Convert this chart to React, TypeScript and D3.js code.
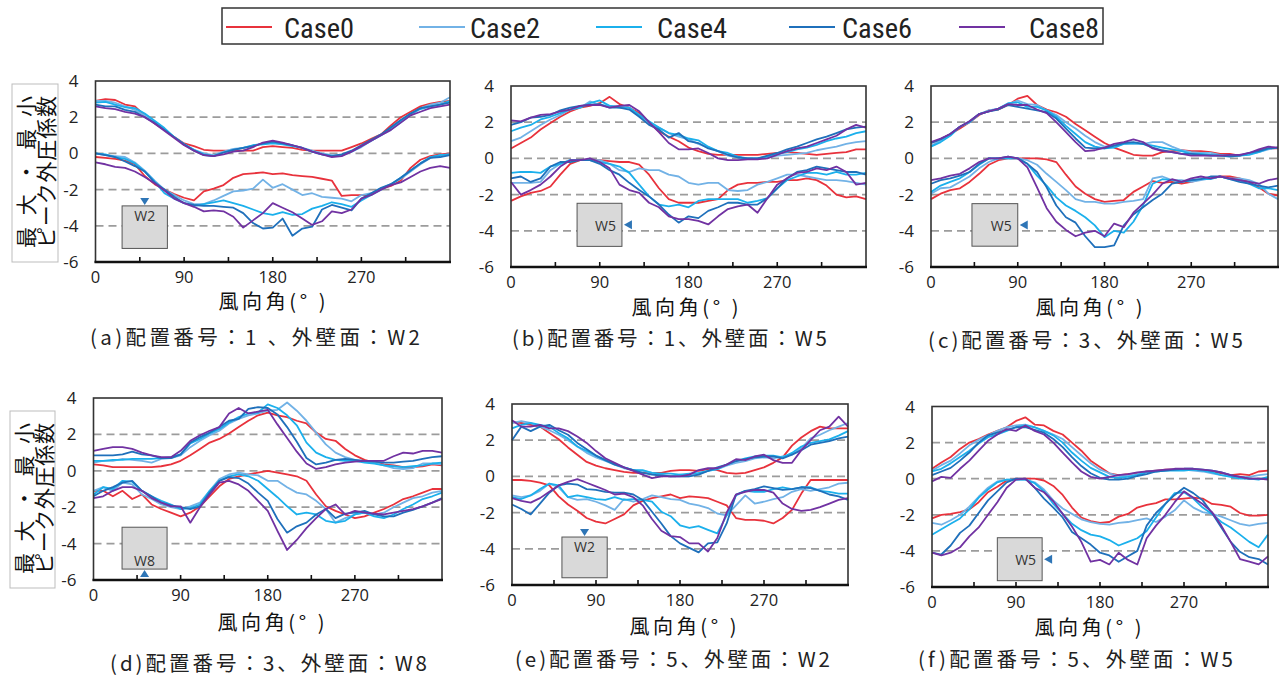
import React from 'react';
import * as d3 from 'd3';

// Wind direction (degrees) at which every series is sampled
const ANGLES = [0, 10, 20, 30, 40, 50, 60, 70, 80, 90, 100, 110, 120, 130, 140, 150, 160, 170, 180,
  190, 200, 210, 220, 230, 240, 250, 260, 270, 280, 290, 300, 310, 320, 330, 340, 350, 360];

const CASES = ['Case0', 'Case2', 'Case4', 'Case6', 'Case8'];
const CASE_COLORS = ['#E8323C', '#72B2E6', '#1BB0EC', '#1F70BB', '#7132A2'];

const Y_TICKS = [4, 2, 0, -2, -4, -6];
const GRID_VALUES = [2, 0, -2, -4];
const X_TICKS = [45, 90, 135, 180, 225, 270, 315];
const X_LABELS = [0, 90, 180, 270];

// Each array below holds one row per case (Case0, Case2, Case4, Case6, Case8)

// (a) layout 1, wall W2
const A_MAX = [
  [2.9, 3.0, 2.95, 2.7, 2.6, 2.1, 1.65, 1.3, 0.9, 0.55, 0.4, 0.2, 0.15, 0.15, 0.15, 0.15, 0.15, 0.35, 0.4, 0.35, 0.3, 0.2, 0.15, 0.15, 0.15, 0.15, 0.35, 0.55, 0.8, 1.05, 1.55, 2.0, 2.3, 2.6, 2.75, 2.85, 2.9],
  [2.9, 2.9, 2.8, 2.6, 2.4, 2.1, 1.7, 1.3, 0.9, 0.5, 0.2, 0.0, -0.1, 0.1, 0.25, 0.3, 0.45, 0.55, 0.6, 0.55, 0.45, 0.3, 0.15, 0.0, -0.1, -0.1, 0.1, 0.35, 0.7, 1.0, 1.3, 1.7, 2.1, 2.5, 2.7, 2.8, 3.1],
  [2.8, 2.85, 2.7, 2.55, 2.5, 2.2, 1.8, 1.4, 0.9, 0.5, 0.2, -0.05, -0.15, 0.05, 0.2, 0.3, 0.45, 0.5, 0.55, 0.5, 0.4, 0.3, 0.1, -0.05, -0.15, -0.1, 0.1, 0.4, 0.7, 1.0, 1.4, 1.8, 2.2, 2.45, 2.6, 2.7, 2.9],
  [2.7, 2.6, 2.6, 2.4, 2.3, 2.0, 1.7, 1.3, 0.9, 0.5, 0.15, -0.1, -0.15, 0.05, 0.2, 0.3, 0.4, 0.55, 0.65, 0.55, 0.45, 0.3, 0.1, -0.05, -0.15, -0.05, 0.15, 0.45, 0.75, 1.05, 1.45, 1.85, 2.2, 2.5, 2.6, 2.7, 2.8],
  [2.6, 2.5, 2.45, 2.3, 2.2, 2.0, 1.65, 1.25, 0.85, 0.45, 0.15, -0.1, -0.15, -0.05, 0.1, 0.15, 0.35, 0.6, 0.7, 0.6, 0.45, 0.3, 0.1, -0.05, -0.2, -0.15, 0.1, 0.4, 0.7, 1.0, 1.3, 1.7, 2.1, 2.3, 2.5, 2.6, 2.7],
];
const A_MIN = [
  [-0.2, -0.25, -0.3, -0.4, -0.6, -1.25, -1.7, -2.0, -2.25, -2.45, -2.6, -2.1, -1.95, -1.75, -1.35, -1.15, -1.1, -1.05, -1.15, -1.1, -1.2, -1.25, -1.3, -1.4, -1.5, -2.35, -2.3, -2.3, -2.3, -1.95, -1.8, -1.5, -0.8, -0.35, -0.15, -0.05, 0.0],
  [0.0, -0.1, -0.15, -0.2, -0.5, -0.95, -1.5, -2.0, -2.3, -2.6, -2.8, -2.8, -2.6, -2.35, -2.1, -2.05, -1.95, -1.45, -1.9, -1.7, -2.0, -2.3, -2.2, -2.4, -2.45, -2.5, -2.65, -2.3, -2.2, -1.95, -1.7, -1.4, -1.0, -0.6, -0.25, -0.1, -0.05],
  [0.0, -0.05, -0.2, -0.3, -0.55, -1.0, -1.55, -2.2, -2.5, -2.75, -2.9, -2.8, -2.7, -2.6, -2.75, -2.9, -3.1, -3.3, -3.4, -3.25, -3.4, -3.35, -3.05, -2.9, -2.7, -2.8, -2.95, -2.6, -2.3, -2.0, -1.7, -1.35, -0.95, -0.55, -0.2, -0.1, -0.05],
  [0.0, -0.1, -0.2, -0.45, -0.7, -1.0, -1.6, -2.0, -2.4, -2.75, -2.85, -2.9, -2.9, -2.95, -3.0, -3.3, -3.85, -4.15, -4.1, -3.6, -4.55, -4.15, -4.05, -3.1, -2.85, -3.0, -3.15, -2.5, -2.2, -1.9, -1.7, -1.35, -0.95, -0.55, -0.25, -0.2, -0.1],
  [-0.5, -0.6, -0.75, -0.8, -1.0, -1.3, -1.65, -2.05, -2.5, -2.75, -2.95, -3.2, -3.15, -3.2, -3.5, -4.1, -3.7, -3.3, -2.75, -3.0, -3.25, -3.6, -3.95, -3.75, -3.2, -3.3, -3.1, -2.5, -2.3, -2.0, -1.75, -1.6, -1.3, -1.0, -0.8, -0.7, -0.8],
];

// (b) layout 1, wall W5
const B_MAX = [
  [0.55, 0.85, 1.15, 1.6, 1.95, 2.3, 2.6, 2.8, 2.9, 3.05, 3.4, 3.0, 2.8, 2.5, 1.95, 1.5, 1.2, 0.95, 0.6, 0.4, 0.25, 0.2, 0.2, 0.2, 0.2, 0.2, 0.25, 0.3, 0.35, 0.3, 0.25, 0.2, 0.25, 0.3, 0.35, 0.5, 0.5],
  [0.95, 1.15, 1.5, 1.85, 2.15, 2.4, 2.7, 2.8, 3.15, 2.95, 2.9, 2.9, 2.8, 2.4, 1.95, 1.7, 1.4, 1.2, 1.05, 0.8, 0.6, 0.4, 0.15, 0.05, 0.0, 0.0, 0.05, 0.15, 0.2, 0.25, 0.3, 0.45, 0.55, 0.65, 0.8, 0.9, 0.95],
  [1.5, 1.7, 1.85, 2.15, 2.3, 2.5, 2.7, 2.8, 3.05, 3.2, 2.9, 2.8, 2.8, 2.4, 2.05, 1.7, 1.4, 1.3, 1.1, 1.0, 0.65, 0.4, 0.3, 0.1, 0.0, 0.0, 0.1, 0.25, 0.35, 0.5, 0.6, 0.75, 0.95, 1.1, 1.2, 1.4, 1.5],
  [1.85, 2.0, 2.25, 2.3, 2.4, 2.65, 2.8, 2.9, 2.95, 3.0, 2.8, 2.8, 2.7, 2.3, 1.85, 1.6, 1.15, 1.4, 0.95, 0.85, 0.55, 0.4, 0.2, 0.05, 0.0, 0.0, 0.15, 0.3, 0.5, 0.65, 0.85, 1.05, 1.2, 1.4, 1.6, 1.7, 1.75],
  [2.1, 2.05, 2.25, 2.4, 2.45, 2.6, 2.7, 2.9, 2.95, 2.95, 2.8, 2.9, 2.95, 2.6, 2.0, 1.45, 0.85, 0.5, 0.5, 0.55, 0.3, 0.0, -0.1, -0.1, -0.05, -0.05, 0.0, 0.2, 0.4, 0.55, 0.65, 0.85, 1.05, 1.25, 1.6, 1.85, 1.7],
];
const B_MIN = [
  [-2.35, -2.1, -1.9, -1.8, -1.55, -0.9, -0.3, -0.1, -0.1, -0.1, -0.15, -0.2, -0.2, -0.35, -0.9, -1.65, -2.25, -2.45, -2.45, -2.45, -2.35, -2.25, -1.75, -1.45, -1.35, -1.35, -1.3, -1.3, -1.2, -1.2, -1.1, -1.2, -1.5, -2.0, -2.15, -2.1, -2.25],
  [-1.35, -1.35, -1.35, -1.3, -0.65, -0.3, -0.1, -0.1, -0.1, -0.1, -0.3, -0.65, -0.75, -0.55, -0.65, -0.65, -0.9, -1.0, -1.35, -1.45, -1.35, -1.35, -1.75, -1.8, -1.75, -1.45, -1.3, -1.1, -0.9, -0.9, -1.0, -1.1, -1.2, -1.2, -1.25, -1.35, -1.45],
  [-0.8, -0.75, -0.75, -0.8, -0.45, -0.3, -0.1, -0.1, -0.1, -0.2, -0.3, -0.45, -0.8, -1.45, -2.1, -2.55, -2.65, -2.55, -2.7, -2.35, -2.25, -2.25, -2.25, -2.25, -2.45, -2.35, -2.2, -1.65, -1.2, -1.0, -0.8, -0.8, -0.9, -0.75, -0.9, -0.9, -0.8],
  [-1.1, -1.0, -1.3, -1.1, -0.45, -0.2, -0.2, -0.1, -0.1, -0.3, -0.65, -0.9, -1.35, -1.75, -2.1, -2.55, -3.1, -3.55, -3.2, -3.3, -2.9, -2.7, -2.45, -2.45, -2.55, -2.55, -2.2, -1.65, -1.1, -0.75, -0.65, -0.45, -0.55, -0.65, -0.75, -0.75, -0.9],
  [-1.3, -2.0, -1.75, -1.45, -1.0, -0.45, -0.1, -0.1, 0.0, -0.2, -0.55, -1.45, -1.75, -1.9, -2.45, -2.7, -3.2, -3.35, -3.35, -3.45, -3.65, -3.2, -2.8, -2.65, -2.55, -3.0, -2.2, -1.45, -1.1, -0.8, -0.75, -0.55, -0.65, -0.45, -0.75, -1.45, -1.35],
];

// (c) layout 3, wall W5
const C_MAX = [
  [0.85, 1.05, 1.35, 1.65, 2.0, 2.4, 2.65, 2.7, 2.95, 3.3, 3.45, 2.95, 2.7, 2.55, 2.3, 1.9, 1.55, 1.2, 0.85, 0.6, 0.4, 0.2, 0.15, 0.15, 0.35, 0.4, 0.45, 0.4, 0.4, 0.35, 0.25, 0.25, 0.15, 0.25, 0.45, 0.55, 0.55],
  [0.7, 1.0, 1.35, 1.75, 2.0, 2.45, 2.65, 2.75, 3.0, 3.2, 3.0, 2.95, 2.65, 2.4, 2.0, 1.65, 1.25, 0.9, 0.65, 0.7, 0.8, 0.8, 0.8, 0.9, 0.9, 0.65, 0.45, 0.35, 0.3, 0.3, 0.2, 0.15, 0.15, 0.25, 0.35, 0.5, 0.6],
  [0.65, 0.9, 1.25, 1.75, 2.0, 2.45, 2.6, 2.75, 3.05, 3.1, 2.85, 2.85, 2.65, 2.3, 1.8, 1.35, 0.9, 0.65, 0.55, 0.6, 0.8, 0.85, 0.8, 0.7, 0.6, 0.5, 0.4, 0.25, 0.25, 0.2, 0.15, 0.15, 0.15, 0.2, 0.35, 0.55, 0.6],
  [0.85, 1.05, 1.35, 1.75, 2.05, 2.45, 2.6, 2.7, 2.95, 2.85, 2.75, 2.65, 2.55, 2.2, 1.65, 1.1, 0.6, 0.55, 0.55, 0.7, 0.85, 0.9, 0.8, 0.6, 0.45, 0.35, 0.25, 0.25, 0.2, 0.15, 0.15, 0.1, 0.15, 0.3, 0.4, 0.55, 0.6],
  [0.9, 1.1, 1.35, 1.75, 2.05, 2.45, 2.6, 2.75, 3.0, 2.95, 2.95, 2.7, 2.5, 2.0, 1.45, 0.9, 0.4, 0.45, 0.6, 0.8, 0.9, 1.05, 0.9, 0.55, 0.4, 0.35, 0.25, 0.15, 0.15, 0.15, 0.15, 0.2, 0.2, 0.3, 0.5, 0.65, 0.6],
];
const C_MIN = [
  [-2.25, -1.95, -1.75, -1.65, -1.3, -0.85, -0.35, -0.1, 0.0, 0.0, 0.0, 0.0, -0.05, -0.2, -0.9, -1.55, -1.95, -2.25, -2.4, -2.35, -2.3, -1.85, -1.55, -1.25, -1.35, -1.3, -1.4, -1.3, -1.15, -1.1, -1.0, -1.0, -1.1, -1.3, -1.6, -1.95, -2.05],
  [-1.95, -1.65, -1.6, -1.3, -1.0, -0.55, -0.2, 0.0, 0.0, 0.0, -0.1, -0.35, -0.85, -1.3, -1.75, -2.25, -2.4, -2.4, -2.5, -2.5, -2.4, -2.35, -2.25, -1.1, -1.0, -1.2, -1.2, -1.3, -1.2, -1.1, -1.0, -1.1, -1.1, -1.2, -1.4, -1.95, -2.25],
  [-1.85, -1.5, -1.3, -1.1, -0.75, -0.35, 0.0, 0.0, 0.0, 0.0, -0.3, -0.95, -1.5, -2.15, -2.6, -2.9, -3.25, -3.7, -4.35, -4.0, -4.1, -3.5, -2.6, -1.4, -1.15, -1.2, -1.3, -1.2, -1.15, -1.15, -1.0, -1.15, -1.2, -1.4, -1.65, -1.65, -1.75],
  [-1.4, -1.2, -1.1, -0.95, -0.75, -0.3, 0.0, 0.0, 0.1, 0.0, -0.3, -0.75, -1.6, -2.6, -3.25, -3.55, -4.3, -4.9, -4.9, -4.8, -3.7, -3.1, -2.7, -2.3, -1.95, -1.4, -1.3, -1.2, -1.15, -1.0, -1.0, -1.15, -1.3, -1.4, -1.5, -1.6, -1.5],
  [-1.2, -1.1, -0.95, -0.85, -0.55, -0.2, 0.0, 0.0, 0.1, 0.0, -0.5, -1.6, -2.75, -3.5, -3.95, -4.3, -4.1, -4.0, -4.3, -3.6, -3.8, -3.0, -2.5, -2.0, -1.4, -1.15, -1.3, -1.1, -1.0, -1.1, -1.0, -1.1, -1.2, -1.3, -1.4, -1.2, -1.1],
];

// (d) layout 3, wall W8
const D_MAX = [
  [0.35, 0.3, 0.2, 0.2, 0.2, 0.2, 0.2, 0.25, 0.35, 0.55, 0.85, 1.2, 1.55, 1.75, 2.05, 2.4, 2.75, 3.05, 3.2, 3.05, 2.95, 2.75, 2.6, 2.1, 1.75, 1.65, 1.2, 0.85, 0.6, 0.45, 0.35, 0.3, 0.2, 0.2, 0.25, 0.35, 0.3],
  [0.45, 0.55, 0.55, 0.65, 0.6, 0.55, 0.45, 0.65, 0.7, 0.85, 1.3, 1.65, 1.95, 2.2, 2.6, 2.85, 3.05, 3.15, 3.3, 3.35, 3.75, 3.3, 2.75, 2.1, 1.45, 1.0, 0.75, 0.6, 0.5, 0.45, 0.3, 0.15, 0.1, 0.15, 0.4, 0.4, 0.35],
  [0.55, 0.55, 0.6, 0.6, 0.65, 0.65, 0.65, 0.7, 0.75, 0.9, 1.5, 1.75, 2.05, 2.3, 2.65, 2.95, 3.15, 3.2, 3.65, 3.45, 3.05, 2.5, 1.55, 1.0, 0.75, 0.6, 0.55, 0.55, 0.45, 0.4, 0.3, 0.25, 0.2, 0.25, 0.3, 0.4, 0.45],
  [0.85, 0.85, 0.85, 0.9, 1.05, 0.9, 0.85, 0.7, 0.7, 0.9, 1.55, 1.85, 2.1, 2.4, 2.75, 2.85, 3.4, 3.5, 3.45, 3.1, 2.4, 1.6, 0.7, 0.35, 0.45, 0.6, 0.65, 0.6, 0.55, 0.5, 0.45, 0.45, 0.5, 0.55, 0.65, 0.75, 0.8],
  [1.1, 1.2, 1.3, 1.3, 1.2, 1.0, 0.85, 0.75, 0.75, 1.1, 1.65, 1.95, 2.2, 2.4, 3.15, 3.45, 3.15, 3.25, 3.35, 2.55, 1.8, 1.05, 0.4, 0.1, 0.2, 0.35, 0.45, 0.5, 0.55, 0.55, 0.55, 0.8, 1.0, 0.95, 1.1, 1.1, 1.0],
];
const D_MIN = [
  [-1.1, -1.1, -1.4, -1.1, -1.55, -1.3, -1.85, -2.1, -2.3, -2.5, -2.3, -1.95, -1.4, -0.85, -0.45, -0.3, -0.2, -0.1, 0.0, -0.1, -0.2, -0.3, -0.55, -1.3, -1.95, -2.2, -2.4, -2.6, -2.5, -2.3, -2.1, -1.85, -1.55, -1.4, -1.2, -1.0, -1.0],
  [-1.1, -0.9, -1.1, -0.65, -0.75, -1.3, -1.55, -1.85, -2.0, -2.1, -1.95, -1.75, -1.1, -0.45, -0.2, -0.1, -0.2, -0.25, -0.55, -0.55, -0.9, -1.2, -1.3, -1.65, -2.1, -2.85, -2.6, -2.4, -2.3, -2.4, -2.3, -2.0, -1.75, -1.5, -1.4, -1.2, -1.1],
  [-1.3, -0.9, -1.0, -0.55, -0.6, -1.1, -1.4, -1.65, -1.85, -2.1, -2.05, -1.85, -1.1, -0.55, -0.3, -0.2, -0.3, -0.55, -1.0, -1.45, -1.95, -2.4, -2.3, -2.4, -2.75, -2.85, -2.75, -2.4, -2.3, -2.5, -2.6, -2.4, -2.1, -1.85, -1.55, -1.4, -1.2],
  [-1.4, -1.1, -0.9, -0.65, -0.55, -1.1, -1.4, -1.75, -1.9, -2.0, -2.1, -1.95, -1.2, -0.55, -0.35, -0.4, -0.7, -1.2, -1.65, -2.65, -3.4, -3.05, -2.85, -2.4, -2.1, -2.6, -2.35, -2.3, -2.2, -2.4, -2.5, -2.5, -2.3, -2.15, -1.95, -1.75, -1.5],
  [-1.5, -1.4, -1.1, -0.9, -0.9, -1.1, -1.5, -1.75, -1.95, -1.95, -2.85, -2.0, -1.3, -0.65, -0.55, -0.75, -1.1, -1.65, -2.2, -3.3, -4.35, -3.8, -3.15, -2.6, -2.1, -1.85, -2.4, -2.2, -2.3, -2.35, -2.4, -2.3, -2.2, -2.1, -1.95, -1.75, -1.55],
];

// (e) layout 5, wall W2
const E_MAX = [
  [3.0, 2.95, 2.85, 2.75, 2.4, 2.05, 1.6, 1.2, 0.8, 0.6, 0.45, 0.35, 0.25, 0.2, 0.2, 0.2, 0.2, 0.3, 0.35, 0.35, 0.3, 0.4, 0.35, 0.2, 0.15, 0.2, 0.35, 0.5, 0.75, 1.05, 1.7, 2.15, 2.5, 2.75, 2.65, 2.65, 2.65],
  [2.95, 3.05, 2.95, 2.75, 2.55, 2.3, 2.0, 1.65, 1.3, 1.05, 0.85, 0.65, 0.45, 0.35, 0.3, 0.2, 0.1, 0.0, 0.1, 0.05, 0.15, 0.3, 0.4, 0.6, 0.75, 0.85, 1.0, 1.05, 1.0, 1.1, 1.2, 1.55, 2.1, 2.3, 2.55, 2.75, 2.95],
  [2.65, 2.85, 2.95, 2.85, 2.75, 2.4, 2.1, 1.65, 1.4, 1.15, 0.9, 0.7, 0.5, 0.35, 0.35, 0.2, 0.15, 0.15, 0.1, 0.15, 0.2, 0.3, 0.4, 0.65, 0.85, 1.0, 1.1, 1.15, 1.15, 1.05, 1.3, 1.65, 1.85, 1.95, 2.05, 2.25, 2.5],
  [2.0, 2.75, 2.5, 2.75, 2.85, 2.55, 2.3, 1.85, 1.5, 1.15, 0.9, 0.65, 0.5, 0.35, 0.2, 0.1, 0.05, 0.0, 0.0, 0.0, 0.1, 0.3, 0.5, 0.65, 0.85, 0.95, 1.05, 1.1, 1.1, 1.0, 1.2, 1.45, 1.75, 1.85, 1.95, 2.1, 2.2],
  [3.1, 2.75, 2.75, 2.85, 2.65, 2.65, 2.5, 2.2, 1.85, 1.4, 1.0, 0.75, 0.5, 0.3, 0.1, -0.1, 0.0, 0.0, 0.0, 0.1, 0.35, 0.45, 0.45, 0.65, 0.95, 0.9, 1.1, 1.2, 0.9, 0.75, 0.75, 1.45, 2.0, 2.55, 2.75, 3.3, 2.75],
];
const E_MIN = [
  [-0.2, -0.2, -0.25, -0.35, -0.5, -1.1, -1.55, -1.9, -2.3, -2.5, -2.6, -2.35, -2.1, -1.6, -1.35, -1.2, -1.1, -1.0, -1.2, -1.1, -1.15, -1.2, -1.4, -1.6, -2.3, -2.4, -2.4, -2.45, -2.6, -2.3, -1.85, -0.95, -0.2, -0.2, -0.2, -0.2, -0.2],
  [-1.05, -1.15, -1.05, -0.8, -0.4, -0.6, -1.15, -1.3, -1.25, -1.4, -1.6, -1.85, -1.25, -1.4, -1.25, -1.05, -1.15, -1.25, -1.3, -1.5, -1.6, -1.75, -2.05, -2.15, -1.6, -1.05, -1.5, -1.4, -1.25, -1.15, -0.85, -0.7, -0.8, -0.7, -0.6, -0.4, -0.35],
  [-1.15, -1.25, -1.05, -0.7, -0.4, -0.5, -1.15, -1.05, -1.15, -1.25, -1.3, -1.15, -1.3, -1.25, -1.3, -1.4, -1.95, -2.2, -2.7, -2.85, -2.75, -2.95, -3.15, -2.15, -1.05, -0.8, -0.85, -0.85, -0.7, -0.6, -0.7, -0.6, -0.6, -0.8, -0.85, -0.95, -0.95],
  [-1.55, -1.8, -2.1, -1.5, -0.9, -0.5, -0.4, -0.45, -0.7, -0.75, -0.85, -0.9, -0.9, -1.0, -1.3, -1.95, -2.6, -3.3, -3.7, -3.95, -4.2, -3.7, -3.65, -2.6, -1.0, -0.8, -0.7, -0.55, -0.65, -0.75, -0.7, -0.6, -0.65, -0.8, -1.0, -1.1, -1.3],
  [-1.2, -1.35, -1.45, -1.2, -0.85, -0.5, -0.3, -0.15, -0.35, -0.55, -0.75, -1.0, -0.95, -1.15, -1.6, -2.35, -3.0, -3.3, -3.35, -3.7, -3.7, -4.15, -3.4, -2.0, -1.0, -0.85, -0.75, -0.75, -0.9, -1.5, -1.8, -1.9, -1.85, -1.7, -1.5, -1.3, -1.2],
];

// (f) layout 5, wall W5
const F_MAX = [
  [0.55, 0.9, 1.2, 1.65, 2.0, 2.2, 2.45, 2.65, 2.85, 3.2, 3.4, 3.0, 2.95, 2.65, 2.45, 2.0, 1.55, 1.0, 0.65, 0.3, 0.2, 0.25, 0.3, 0.4, 0.45, 0.5, 0.5, 0.55, 0.5, 0.45, 0.4, 0.3, 0.2, 0.25, 0.2, 0.4, 0.45],
  [0.45, 0.75, 1.0, 1.4, 1.85, 2.15, 2.4, 2.65, 2.85, 2.95, 3.0, 2.85, 2.65, 2.45, 2.2, 1.75, 1.3, 0.85, 0.5, 0.3, 0.15, 0.15, 0.25, 0.4, 0.45, 0.45, 0.5, 0.5, 0.45, 0.4, 0.3, 0.2, 0.15, 0.1, 0.1, 0.2, 0.25],
  [0.4, 0.55, 0.85, 1.2, 1.55, 1.95, 2.3, 2.45, 2.65, 2.85, 2.95, 2.85, 2.65, 2.4, 2.0, 1.45, 1.0, 0.6, 0.35, 0.1, 0.05, 0.1, 0.2, 0.35, 0.4, 0.45, 0.45, 0.45, 0.5, 0.45, 0.35, 0.2, 0.1, 0.0, 0.0, -0.05, 0.1],
  [0.2, 0.4, 0.6, 1.0, 1.45, 2.0, 2.4, 2.55, 2.7, 2.85, 2.85, 2.7, 2.55, 2.2, 1.75, 1.2, 0.7, 0.3, 0.05, -0.05, -0.05, 0.0, 0.15, 0.25, 0.4, 0.45, 0.5, 0.55, 0.55, 0.5, 0.45, 0.35, 0.2, 0.1, 0.0, 0.0, 0.0],
  [-0.15, 0.1, 0.05, 0.55, 1.0, 1.55, 2.1, 2.45, 2.75, 2.65, 2.95, 2.65, 2.45, 2.0, 1.45, 0.9, 0.4, 0.1, 0.0, 0.1, 0.2, 0.25, 0.35, 0.4, 0.45, 0.5, 0.55, 0.55, 0.55, 0.5, 0.45, 0.35, 0.2, 0.1, 0.0, 0.0, -0.05],
];
const F_MIN = [
  [-2.2, -2.0, -1.95, -1.85, -1.7, -1.3, -0.75, -0.45, -0.1, 0.0, 0.0, 0.0, -0.1, -0.4, -0.9, -1.6, -2.15, -2.35, -2.45, -2.4, -2.1, -1.95, -1.6, -1.45, -1.35, -1.15, -1.15, -1.1, -1.05, -1.1, -1.4, -1.45, -1.55, -1.9, -2.05, -2.05, -2.0],
  [-2.45, -2.55, -2.3, -2.0, -1.55, -1.0, -0.5, -0.15, -0.05, -0.05, -0.05, -0.2, -0.6, -1.2, -1.65, -1.95, -2.25, -2.4, -2.5, -2.55, -2.45, -2.4, -2.3, -2.2, -2.4, -2.1, -1.75, -1.2, -1.6, -1.85, -1.95, -2.1, -2.3, -2.5, -2.6, -2.5, -2.45],
  [-3.1, -2.8, -2.5, -2.2, -1.7, -1.05, -0.6, -0.2, -0.05, -0.05, -0.05, -0.25, -0.7, -1.4, -1.95, -2.5, -2.85, -3.1, -3.2, -3.4, -3.7, -3.5, -3.3, -2.9, -2.15, -1.4, -0.8, -0.75, -1.1, -1.6, -1.95, -2.4, -2.7, -3.1, -3.5, -3.8, -3.1],
  [-4.1, -4.2, -3.7, -3.0, -2.6, -1.9, -1.2, -0.7, -0.2, 0.0, 0.0, -0.5, -1.1, -1.6, -2.15, -2.95, -3.3, -3.65, -4.1, -4.25, -4.6, -4.3, -4.0, -2.6, -1.9, -1.4, -0.9, -0.5, -0.8, -1.2, -1.9, -2.7, -3.5, -4.05, -4.35, -4.45, -4.75],
  [-4.1, -4.25, -4.1, -3.8, -3.2, -2.7, -2.0, -1.3, -0.5, -0.05, 0.0, -0.5, -0.75, -1.25, -1.95, -2.65, -3.5, -4.6, -4.5, -4.75, -4.1, -4.5, -4.75, -3.3, -2.6, -2.0, -1.3, -0.7, -1.05, -1.4, -1.85, -2.6, -3.5, -4.45, -4.6, -4.75, -4.3],
];

const CAPTIONS = [
  '(a)配置番号：1 、外壁面：W2',
  '(b)配置番号：1、外壁面：W5',
  '(c)配置番号：3、外壁面：W5',
  '(d)配置番号：3、外壁面：W8',
  '(e)配置番号：5、外壁面：W2',
  '(f)配置番号：5、外壁面：W5',
];

type Inset = { x0: number; x1: number; y0: number; y1: number; label: string; side: 'top' | 'right' | 'bottom' };

// Plot frames, caption placement and the wall-position sketch for each small multiple
const PANELS = [
  { max: A_MAX, min: A_MIN, frame: { l: 95.5, r: 450, t: 81, b: 262 }, capX: 255, capY: 345, capW: 330, axX: 272, axY: 309, yBox: { x: 12, y: 84, w: 46, h: 178 },
    inset: { x0: 27, x1: 73, y0: -2.9, y1: -5.25, label: 'W2', side: 'top' } as Inset },
  { max: B_MAX, min: B_MIN, frame: { l: 511, r: 866, t: 86, b: 267 }, capX: 669.5, capY: 346, capW: 315, axX: 685, axY: 315, yBox: null,
    inset: { x0: 67, x1: 112.5, y0: -2.48, y1: -4.86, label: 'W5', side: 'right' } as Inset },
  { max: C_MAX, min: C_MIN, frame: { l: 931, r: 1278, t: 86, b: 267 }, capX: 1085.5, capY: 348, capW: 315, axX: 1089, axY: 315, yBox: null,
    inset: { x0: 42.5, x1: 90, y0: -2.5, y1: -4.85, label: 'W5', side: 'right' } as Inset },
  { max: D_MAX, min: D_MIN, frame: { l: 93.5, r: 442, t: 398, b: 580 }, capX: 268.5, capY: 671, capW: 317, axX: 271, axY: 630, yBox: { x: 10, y: 411, w: 45, h: 177 },
    inset: { x0: 29.5, x1: 76, y0: -3.1, y1: -5.4, label: 'W8', side: 'bottom' } as Inset },
  { max: E_MAX, min: E_MIN, frame: { l: 512, r: 848, t: 404, b: 585 }, capX: 672.5, capY: 667, capW: 315, axX: 683, axY: 634, yBox: null,
    inset: { x0: 53.5, x1: 102, y0: -3.35, y1: -5.6, label: 'W2', side: 'top' } as Inset },
  { max: F_MAX, min: F_MIN, frame: { l: 932, r: 1268, t: 406.5, b: 587 }, capX: 1075.5, capY: 667, capW: 315, axX: 1088, axY: 635, yBox: null,
    inset: { x0: 70, x1: 118, y0: -3.27, y1: -5.65, label: 'W5', side: 'right' } as Inset },
];

// Legend layout: sample line start and label start for each case
const LEGEND_LINE_X = [226, 419, 596, 789, 959];
const LEGEND_TEXT_X = [284, 470, 657, 842, 1029];

const FONT_CJK = "'Noto Sans CJK JP', 'Noto Sans CJK SC', sans-serif";
const FONT_NUM = "'Open Sans', 'Liberation Sans', 'DejaVu Sans', sans-serif";
const FONT_NARROW = "'Liberation Sans Narrow', 'Roboto Condensed', 'Liberation Sans', sans-serif";

const MARKER = '#2E75B6';

function WallSketch({ inset, x, y }: { inset: Inset; x: d3.ScaleLinear<number, number>; y: d3.ScaleLinear<number, number> }) {
  const L = x(inset.x0), R = x(inset.x1), T = y(inset.y0), B = y(inset.y1);
  const cx = (L + R) / 2, cy = (T + B) / 2;
  let tri = '';
  let label: React.ReactNode = null;
  if (inset.side === 'top') {
    tri = `M${cx - 4.5},${T - 8}L${cx + 4.5},${T - 8}L${cx},${T - 1}Z`;
    label = <text x={cx} y={T + 15} textAnchor="middle" fontSize={14} fill="#333" fontFamily={FONT_NUM}>{inset.label}</text>;
  } else if (inset.side === 'bottom') {
    tri = `M${cx - 4.5},${B + 8}L${cx + 4.5},${B + 8}L${cx},${B + 1}Z`;
    label = <text x={cx} y={B - 3} textAnchor="middle" fontSize={14} fill="#333" fontFamily={FONT_NUM}>{inset.label}</text>;
  } else {
    tri = `M${R + 10},${cy - 4.5}L${R + 10},${cy + 4.5}L${R + 2},${cy}Z`;
    label = <text x={R - 6} y={cy + 6} textAnchor="end" fontSize={14} fill="#333" fontFamily={FONT_NUM}>{inset.label}</text>;
  }
  return (
    <g>
      <rect x={L} y={T} width={R - L} height={B - T} fill="#D9D9D9" stroke="#555" strokeWidth={1} />
      {label}
      <path d={tri} fill={MARKER} />
    </g>
  );
}

function Panel({ p, idx }: { p: typeof PANELS[number]; idx: number }) {
  const { l, r, t, b } = p.frame;
  const x = d3.scaleLinear().domain([0, 360]).range([l, r]);
  const y = d3.scaleLinear().domain([-6, 4]).range([b, t]);
  const line = d3.line<number>().x((_, i) => x(ANGLES[i])).y((d) => y(d));

  return (
    <g>
      {GRID_VALUES.map((v) => (
        <line key={v} x1={l} x2={r} y1={y(v)} y2={y(v)} stroke="#9C9C9C" strokeWidth={1.8} strokeDasharray="8 5" />
      ))}
      {CASES.map((c, ci) => (
        <g key={c}>
          <path d={line(p.max[ci]) || ''} fill="none" stroke={CASE_COLORS[ci]} strokeWidth={1.8} strokeLinejoin="round" />
          <path d={line(p.min[ci]) || ''} fill="none" stroke={CASE_COLORS[ci]} strokeWidth={1.8} strokeLinejoin="round" />
        </g>
      ))}
      <WallSketch inset={p.inset} x={x} y={y} />
      <rect x={l} y={t} width={r - l} height={b - t} fill="none" stroke="#333" strokeWidth={1.6} />
      <line x1={l - 1} x2={r + 1} y1={b} y2={b} stroke="#111" strokeWidth={2.4} />
      {X_TICKS.map((v) => (
        <line key={v} x1={x(v)} x2={x(v)} y1={b} y2={b - 5} stroke="#111" strokeWidth={1.6} />
      ))}
      {Y_TICKS.map((v) => (
        <text key={v} x={l - 17} y={y(v) + 6} textAnchor="end" fontSize={17} fill="#222" fontFamily={FONT_NUM}>{v}</text>
      ))}
      {X_LABELS.map((v) => (
        <text key={v} x={x(v)} y={b + 21} textAnchor="middle" fontSize={16.5} fill="#222" fontFamily={FONT_NUM}>{v}</text>
      ))}
      <text x={p.axX} y={p.axY} textAnchor="middle" fontSize={20} fill="#111" fontFamily={FONT_CJK}
        textLength={107} lengthAdjust="spacing">風向角(° )</text>
      <text x={p.capX} y={p.capY} textAnchor="middle" fontSize={20.5} fill="#222" fontFamily={FONT_CJK}
        textLength={p.capW} lengthAdjust="spacing">{CAPTIONS[idx]}</text>
      {p.yBox && (
        <g>
          <rect x={p.yBox.x} y={p.yBox.y} width={p.yBox.w} height={p.yBox.h} fill="#fff" stroke="#BDBDBD" strokeWidth={1} />
          {(() => {
            const cx = p.yBox.x + p.yBox.w / 2;
            const cy = p.yBox.y + p.yBox.h / 2 - 1;
            const len = p.yBox.h - 26;
            return (
              <g>
                <text transform={`translate(${cx - 10},${cy}) rotate(-90)`} textAnchor="middle" dominantBaseline="central"
                  fontSize={21} fill="#111" fontFamily={FONT_CJK} textLength={len} lengthAdjust="spacing">最大・最小</text>
                <text transform={`translate(${cx + 10},${cy}) rotate(-90)`} textAnchor="middle" dominantBaseline="central"
                  fontSize={21} fill="#111" fontFamily={FONT_CJK} textLength={len} lengthAdjust="spacing">ピーク外圧係数</text>
              </g>
            );
          })()}
        </g>
      )}
    </g>
  );
}

export default function App() {
  return (
    <svg width={1283} height={677} style={{ position: 'absolute', left: 0, top: 0, background: '#fff' }}>
      <rect x={0} y={0} width={1283} height={677} fill="#fff" />
      {/* legend */}
      <rect x={222} y={8} width={881} height={36} fill="#fff" stroke="#333" strokeWidth={1.5} />
      {CASES.map((c, i) => (
        <g key={c}>
          <line x1={LEGEND_LINE_X[i]} x2={LEGEND_LINE_X[i] + 46} y1={27} y2={27} stroke={CASE_COLORS[i]} strokeWidth={2} />
          <text x={LEGEND_TEXT_X[i]} y={38} fontSize={27} fill="#222" fontFamily={FONT_NARROW}
            textLength={70} lengthAdjust="spacingAndGlyphs">{c}</text>
        </g>
      ))}
      {PANELS.map((p, i) => (
        <Panel key={i} p={p} idx={i} />
      ))}
    </svg>
  );
}
